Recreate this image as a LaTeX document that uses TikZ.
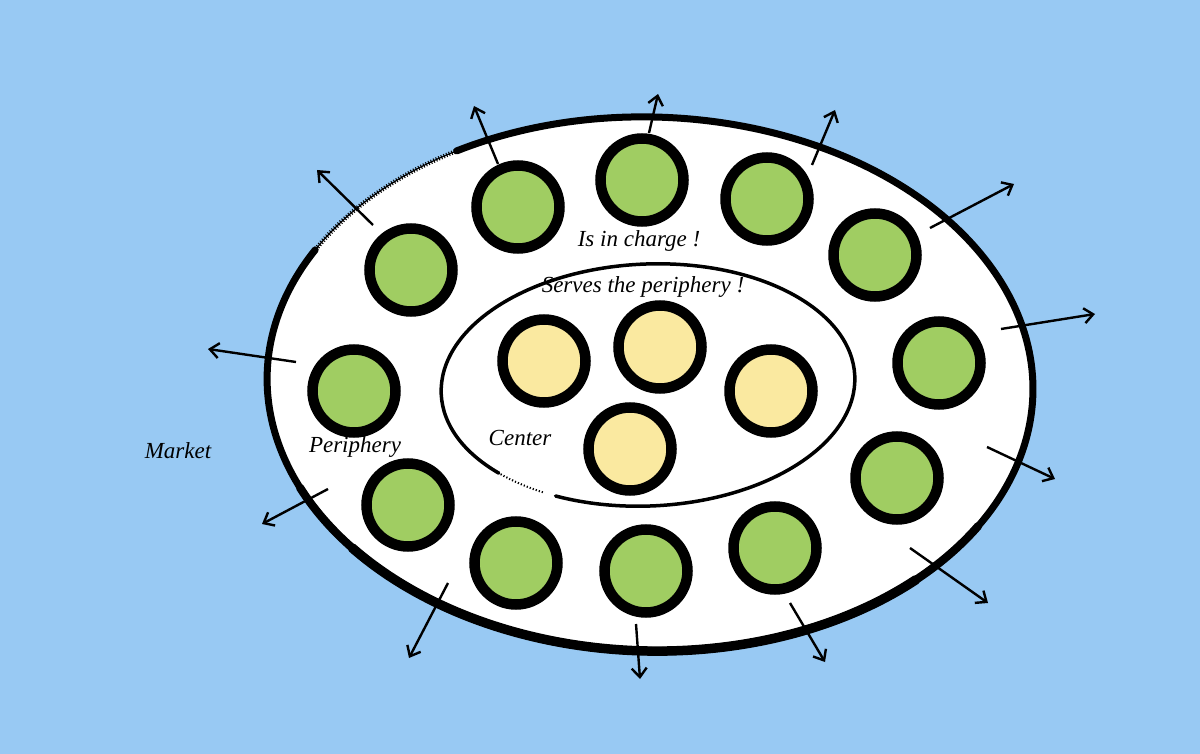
\documentclass[tikz,border=0pt]{standalone}
\usepackage{fontspec}
\setmainfont{Liberation Serif}
\usetikzlibrary{arrows.meta}
\definecolor{bgblue}{RGB}{152,201,243}
\definecolor{pgreen}{RGB}{160,205,98}
\definecolor{pyellow}{RGB}{250,233,160}
\tikzset{
  gcirc/.style={circle,draw=black,line width=10.5pt,fill=pgreen,minimum size=83pt,inner sep=0pt},
  ycirc/.style={circle,draw=black,line width=10.5pt,fill=pyellow,minimum size=83pt,inner sep=0pt},
  outarrow/.style={line width=2.4pt,-{Straight Barb[length=9pt,width=15pt,line width=2.4pt]}},
  lbl/.style={font=\fontsize{23}{27}\selectfont\itshape,inner sep=0pt}
}
\begin{document}
\begin{tikzpicture}[x=1pt,y=-1pt]
\useasboundingbox (0,0) rectangle (1200,754);
\fill[bgblue] (0,0) rectangle (1200,754);
% outer ellipse
\begin{scope}[shift={(650,384)},rotate=-1.5]
  \fill[white] (0,0) ellipse[x radius=383,y radius=267];
  \draw[line width=7pt,line cap=round] (238.6:383 and 267) arc[start angle=238.6,end angle=568,x radius=383,y radius=267];
  \draw[line width=8.2pt,line cap=round] (30:383 and 267) arc[start angle=30,end angle=155,x radius=383,y radius=267];
  \draw[line width=9.5pt,line cap=round] (45:383 and 267) arc[start angle=45,end angle=140,x radius=383,y radius=267];
  \draw[line width=1.2pt] (206:383 and 267) arc[start angle=206,end angle=238.6,x radius=383,y radius=267];
  \draw[line width=4.5pt,dash pattern=on 1pt off 1.8pt] (206:383 and 267) arc[start angle=206,end angle=238.6,x radius=383,y radius=267];
\end{scope}
% inner ellipse
\begin{scope}[shift={(648,385)},rotate=2.5]
  \draw[line width=3.5pt,line cap=round] (137.6:207 and 121) arc[start angle=137.6,end angle=478,x radius=207,y radius=121];
  \draw[line width=2pt,dash pattern=on 1.2pt off 2pt] (122:207 and 121) arc[start angle=122,end angle=137.6,x radius=207,y radius=121];
\end{scope}
% periphery circles
\node[gcirc] (p1) at (518,207) {};
\node[gcirc] (p2) at (642,180) {};
\node[gcirc] (p3) at (767,199) {};
\node[gcirc] (p4) at (875,255) {};
\node[gcirc] (p5) at (939,363) {};
\node[gcirc] (p6) at (897,478) {};
\node[gcirc] (p7) at (775,548) {};
\node[gcirc] (p8) at (646,571) {};
\node[gcirc] (p9) at (516,563) {};
\node[gcirc] (p10) at (408,505) {};
\node[gcirc] (p11) at (354,391) {};
\node[gcirc] (p12) at (411,270) {};
% center circles
\node[ycirc] (c1) at (544,361) {};
\node[ycirc] (c2) at (660,347) {};
\node[ycirc] (c3) at (771,391) {};
\node[ycirc] (c4) at (630,449) {};
% arrows
\coordinate (s1) at (373,225);  \coordinate (e1) at (317,170);
\coordinate (s2) at (498,164);  \coordinate (e2) at (474,106);
\coordinate (s3) at (649,133);  \coordinate (e3) at (658,94);
\coordinate (s4) at (812,165);  \coordinate (e4) at (835,110);
\coordinate (s5) at (930,228);  \coordinate (e5) at (1014,184);
\coordinate (s6) at (1001,329); \coordinate (e6) at (1095,314);
\coordinate (s7) at (987,447);  \coordinate (e7) at (1055,479);
\coordinate (s8) at (910,548);  \coordinate (e8) at (988,603);
\coordinate (s9) at (790,603);  \coordinate (e9) at (825,662);
\coordinate (s10) at (636,624); \coordinate (e10) at (640,679);
\coordinate (s11) at (448,583); \coordinate (e11) at (409,658);
\coordinate (s12) at (328,489); \coordinate (e12) at (262,524);
\coordinate (s13) at (296,362); \coordinate (e13) at (208,349);
\foreach \i in {1,...,13} { \draw[outarrow] (s\i) -- (e\i); }
% labels
\node[lbl] (t1) at (639,241) {Is in charge !};
\node[lbl] (t2) at (643,287) {Serves the periphery !};
\node[lbl] (t3) at (520,438) {Center};
\node[lbl] (t4) at (355,447) {Periphery};
\node[lbl] (t5) at (178,451) {Market};
\end{tikzpicture}
\end{document}
